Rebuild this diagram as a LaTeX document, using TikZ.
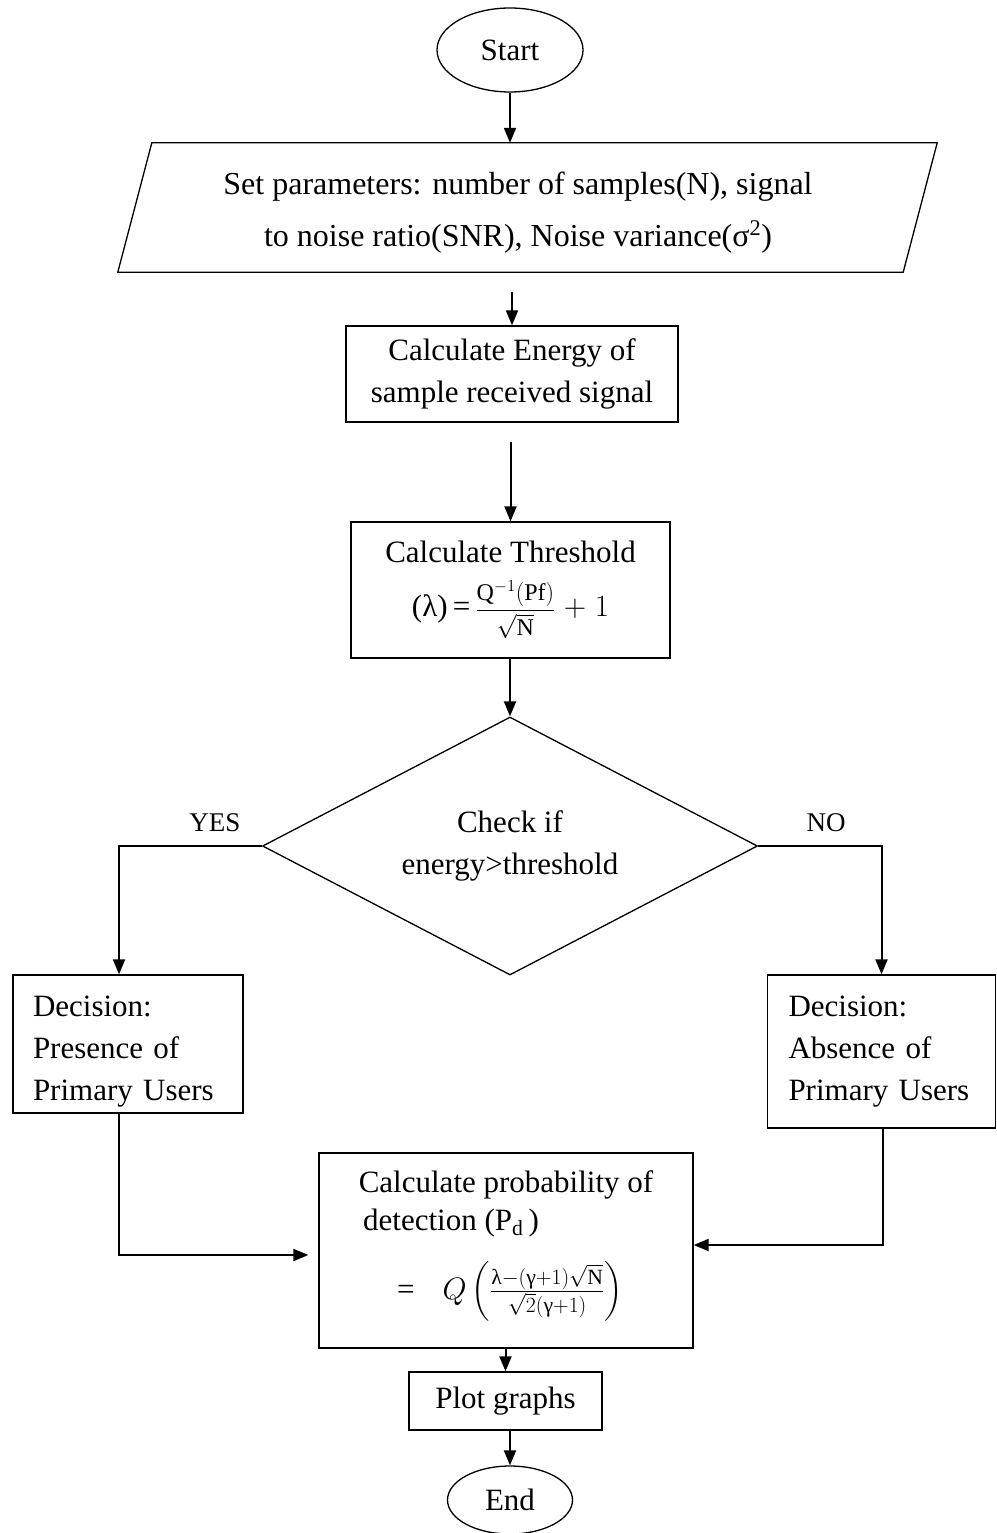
\RequirePackage{fix-cm}
\documentclass[tikz,border=0pt]{standalone}
\usepackage{amsmath}
\usepackage{fontspec}
\setmainfont{Liberation Serif}
\usetikzlibrary{shapes.geometric,arrows.meta}

\begin{document}
\begin{tikzpicture}[x=1pt,y=1pt,
  every node/.style={font=\fontsize{31}{42}\selectfont, inner sep=0pt},
  box/.style={draw, line width=1.3pt, rectangle, align=center},
  term/.style={draw, line width=1.3pt, ellipse},
  decide/.style={draw, line width=1.3pt, diamond, align=center},
  flow/.style={line width=2pt, -{Triangle[length=15pt,width=12pt]}},
  lbl/.style={font=\fontsize{27}{32}\selectfont}
]
\useasboundingbox (0,0) rectangle (996,-1533);

% start / input
\node[term, minimum width=146, minimum height=84] (start) at (510,-50) {Start};
\node[minimum width=785, minimum height=129] (params) at (518,-207.5) {};
\draw[line width=1.3pt] ([xshift=26.5]params.north west) -- ([xshift=26.5]params.north east)
  -- ([xshift=-7.5]params.south east) -- ([xshift=-7.5]params.south west) -- cycle;
\node[align=center, font=\fontsize{32}{42}\selectfont] (paramstext) at (518,-213)
  {Set parameters: number of samples(N), signal\\[10pt]
   to noise ratio(SNR), Noise variance(σ\textsuperscript{2})};

% processing steps
\node[box, minimum width=332, minimum height=96] (energy) at (512,-374)
  {Calculate Energy of\\sample received signal};
\node[box, minimum width=319, minimum height=136] (thr) at (510.5,-590)
  {Calculate Threshold\\[12pt]
   (λ)\,=\,{\fontsize{24}{28}\selectfont$\dfrac{\mathrm{Q}^{-1}(\mathrm{Pf})}{\sqrt{\mathrm{N}}}$}$\;+\;1$};

% decision
\node[decide, minimum width=495, minimum height=258, aspect=1.92] (dec) at (510,-846)
  {Check if\\energy>threshold};

\node[box, minimum width=230, minimum height=138] (yesbox) at (128,-1044) {};
\node[align=left, text width=190] (yestext) at (128,-1051.5)
  {Decision:\\Presence of\\Primary Users};
\node[box, align=left, text width=186, inner xsep=21pt, minimum height=153] (nobox) at (881.5,-1051.5)
  {Decision:\\Absence of\\Primary Users};

\node[lbl] (yes) at (215,-823) {YES};
\node[lbl] (no) at (826,-823) {NO};

% detection probability
\node[box, minimum width=374, minimum height=195] (prob) at (506,-1250.5) {};
\node (pl1) at (506,-1185) {Calculate probability of};
\node[anchor=west] (pl2) at (363,-1223) {detection (P$_{\mathrm{d}}$\,)};
\node[anchor=base west] (pl3) at (397,-1299)
  {=\hspace{0.9em}$Q\left(\frac{\text{λ}-(\text{γ}+1)\sqrt{\mathrm{N}}}{\sqrt{2}(\text{γ}+1)}\right)$};

\node[box, minimum width=193, minimum height=58] (plot) at (505.5,-1401) {Plot graphs};
\node[term, minimum width=125, minimum height=68] (end) at (510,-1500) {End};

% connectors
\coordinate (yl) at (119,-845);
\coordinate (yj) at (119,-1255);
\coordinate (nj) at (883,-1245);

\draw[flow] (start.south) -- (start.south |- params.north);
\draw[flow, shorten <=20pt] (params.south -| energy.north) -- (energy.north);
\draw[flow, shorten <=19pt] (energy.south -| thr.north) -- (thr.north);
\draw[flow] (thr.south -| dec.north) -- (dec.north);
\draw[flow] (dec.west) -| (yl |- yesbox.north);
\draw[flow] (dec.east) -| (nobox.north);
\draw[flow, shorten >=10pt] (yesbox.south -| yj) |- (prob.west |- yj);
\draw[flow] (nobox.south -| nj) |- (prob.east |- nj);
\draw[flow] (prob.south -| plot.north) -- (plot.north);
\draw[flow] (plot.south -| end.north) -- (end.north);
\end{tikzpicture}
\end{document}
